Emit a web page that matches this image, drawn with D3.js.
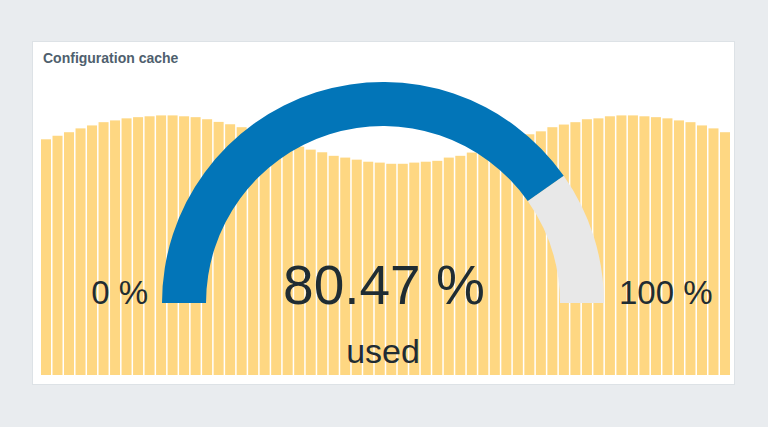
<!DOCTYPE html>
<html>
<head>
    <meta charset="utf-8">
    <style>
        body {
            margin: 0;
            background: #e9ecef;
            font-family: 'Liberation Sans', Arial, sans-serif;
        }
        svg {
            display: block;
        }
    </style>
</head>
<body>
    <svg width="768" height="427"></svg>

<script src="https://d3js.org/d3.v7.min.js"></script>
<script>
// widget data
let title = "Configuration cache"
let gaugeValue = 80.47
let gaugeMin = 0
let gaugeMax = 100
let valueUnit = "%"
let description = "used"

// background bar heights (left to right)
let barValues = [
    79.9, 81.1, 82.3, 83.6, 84.6, 85.7, 86.3, 87.0, 87.4, 87.7,
    88.0, 88.0, 87.7, 87.4, 86.7, 85.8, 85.0, 84.0, 82.9, 81.5,
    80.2, 78.8, 77.4, 76.4, 75.5, 74.3, 73.7, 73.0, 72.3, 72.0,
    71.6, 71.6, 72.0, 72.3, 72.6, 73.7, 74.3, 75.4, 76.6, 78.0,
    79.2, 80.3, 81.6, 82.6, 84.0, 84.9, 85.7, 86.7, 87.0, 87.7,
    88.0, 88.0, 87.7, 87.4, 87.0, 86.3, 85.7, 84.6, 83.6, 82.3
]

let svg = d3.select("svg")

// panel
svg.append("rect")
    .attr("x", 32.5)
    .attr("y", 41.5)
    .attr("width", 702)
    .attr("height", 343)
    .attr("fill", "white")
    .attr("stroke", "#dde2e6")

svg.append("text")
    .attr("x", 43)
    .attr("y", 63)
    .attr("font-size", "14px")
    .attr("font-weight", "bold")
    .attr("fill", "#4f5f6e")
    .text(title)

// background bars
let x = d3.scaleBand()
    .domain(d3.range(barValues.length))
    .range([41, 730])
    .paddingInner(0.13)

let y = d3.scaleLinear()
    .domain([0, 100])
    .range([375, 80])

svg.append("g")
    .selectAll("rect")
    .data(barValues)
    .join("rect")
    .attr("x", (d, i) => x(i))
    .attr("y", d => y(d))
    .attr("width", x.bandwidth())
    .attr("height", d => y(0) - y(d))
    .attr("fill", "#fed782")

// gauge
let cx = 383
let cy = 303
let angle = d3.scaleLinear()
    .domain([gaugeMin, gaugeMax])
    .range([-Math.PI / 2, Math.PI / 2])

let arc = d3.arc()
    .innerRadius(177)
    .outerRadius(221)

let g = svg.append("g")
    .attr("transform", `translate(${cx},${cy})`)

g.append("path")
    .attr("d", arc({ startAngle: angle(gaugeValue), endAngle: angle(gaugeMax) }))
    .attr("fill", "#e8e8e8")

g.append("path")
    .attr("d", arc({ startAngle: angle(gaugeMin), endAngle: angle(gaugeValue) }))
    .attr("fill", "#0275b8")

let textColor = "#1f2c33"

svg.append("text")
    .attr("x", 148)
    .attr("y", 304)
    .attr("text-anchor", "end")
    .attr("font-size", "33px")
    .attr("fill", textColor)
    .text(gaugeMin + " " + valueUnit)

svg.append("text")
    .attr("x", 619)
    .attr("y", 304)
    .attr("text-anchor", "start")
    .attr("font-size", "33px")
    .attr("fill", textColor)
    .text(gaugeMax + " " + valueUnit)

svg.append("text")
    .attr("x", cx + 1)
    .attr("y", 304)
    .attr("text-anchor", "middle")
    .attr("font-size", "55px")
    .attr("fill", textColor)
    .text(gaugeValue.toFixed(2) + " " + valueUnit)

svg.append("text")
    .attr("x", cx)
    .attr("y", 363)
    .attr("text-anchor", "middle")
    .attr("font-size", "34px")
    .attr("fill", textColor)
    .text(description)
</script>
</body>
</html>
